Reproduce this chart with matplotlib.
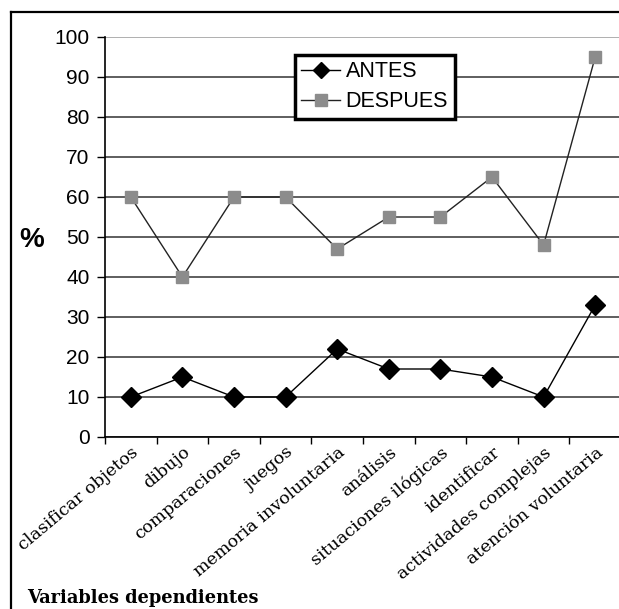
import matplotlib
matplotlib.use('Agg')
import matplotlib.pyplot as plt
from matplotlib.lines import Line2D
import numpy as np

categorias = ['clasificar objetos', 'dibujo', 'comparaciones', 'juegos',
              'memoria involuntaria', 'análisis', 'situaciones ilógicas',
              'identificar', 'actividades complejas', 'atención voluntaria']
antes = [10, 15, 10, 10, 22, 17, 17, 15, 10, 33]
despues = [60, 40, 60, 60, 47, 55, 55, 65, 48, 95]
y_ticks = [0, 10, 20, 30, 40, 50, 60, 70, 80, 90, 100]

W, H = 619, 609
fig = plt.figure(figsize=(W / 100, H / 100), dpi=100)
ax = fig.add_axes([105 / W, 1 - 437 / H, 516 / W, 400 / H])

x = np.arange(len(categorias))
l1, = ax.plot(x, antes, color='black', lw=1.0, marker='D', markersize=10,
              markerfacecolor='black', markeredgecolor='black', label='ANTES', zorder=3)
l2, = ax.plot(x, despues, color='#222222', lw=1.0, marker='s', markersize=8,
              markerfacecolor='#8c8c8c', markeredgecolor='#8c8c8c', label='DESPUES', zorder=3)

ax.set_xlim(-0.5, len(categorias) - 0.5)
ax.set_ylim(0, 100)
ax.set_yticks(y_ticks)
ax.tick_params(axis='y', direction='out', length=6, width=1, labelsize=15, pad=5)
for lab in ax.get_yticklabels():
    lab.set_fontfamily('Liberation Sans')

# category labels centred, tick marks on the boundaries
ax.set_xticks(x)
ax.set_xticklabels(categorias, rotation=40, ha='right', va='top',
                   rotation_mode='anchor', fontfamily='DejaVu Serif', fontsize=12.6)
ax.tick_params(axis='x', which='major', length=0, pad=5)
ax.set_xticks(np.arange(-0.5, len(categorias)), minor=True)
ax.tick_params(axis='x', which='minor', direction='out', length=5, width=1)

ax.yaxis.grid(True, color='#333333', lw=1.1)
ax.set_axisbelow(True)
ax.get_ygridlines()[-1].set_color('#9a9a9a')
for s in ['top', 'right']:
    ax.spines[s].set_visible(False)
ax.spines['left'].set_linewidth(1.2)
ax.spines['bottom'].set_linewidth(1.2)

leg = fig.legend(handles=[l1, l2], loc='upper left',
                 bbox_to_anchor=(295 / W, 1 - 55 / H), frameon=True, fancybox=False,
                 framealpha=1, prop={'family': 'Liberation Sans', 'size': 15.5},
                 handlelength=1.8, handletextpad=0.25, borderpad=0.3,
                 labelspacing=0.4, borderaxespad=0)
leg.get_frame().set_edgecolor('black')
leg.get_frame().set_linewidth(2.5)
leg.set_zorder(5)
leg.legend_handles[0].set_markersize(8)
leg.legend_handles[1].set_markersize(8)

fig.text(32 / W, 1 - 240 / H, '%', fontfamily='Liberation Sans', fontweight='bold',
         fontsize=20, ha='center', va='center')
fig.text(27 / W, 1 - 603 / H, 'Variables dependientes', fontfamily='DejaVu Serif',
         fontweight='bold', fontsize=12.8, ha='left', va='baseline')

# outer frame on the left and top
fig.add_artist(Line2D([11 / W, 11 / W], [0, 1 - 12 / H], color='black', lw=1.6,
                      transform=fig.transFigure))
fig.add_artist(Line2D([11 / W, 1], [1 - 12 / H, 1 - 12 / H], color='black', lw=1.6,
                      transform=fig.transFigure))

fig.savefig('out.png', dpi=100)
